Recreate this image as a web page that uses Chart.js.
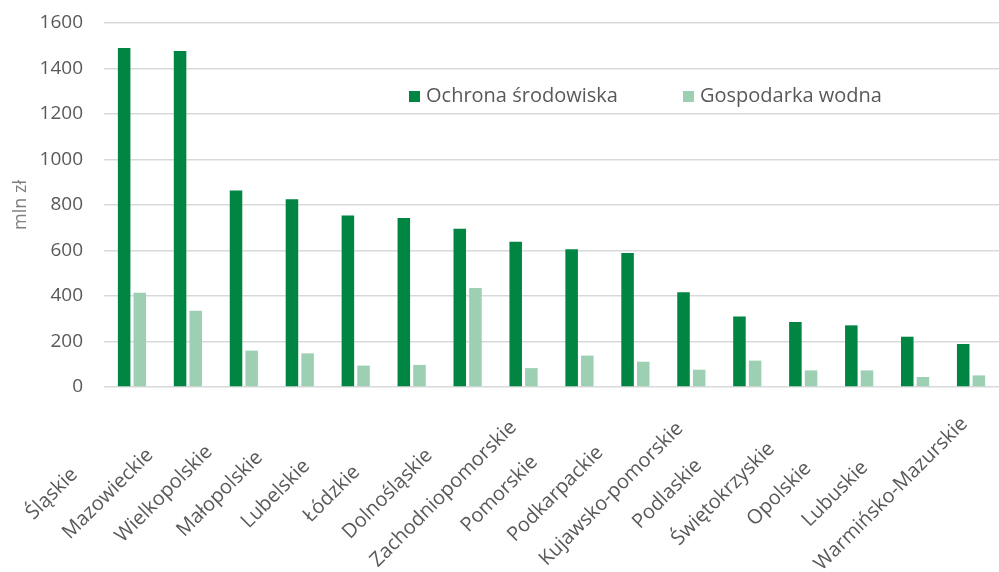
<!DOCTYPE html>
<html>
<head>
<meta charset="utf-8">
<script src="https://cdn.jsdelivr.net/npm/chart.js@4"></script>
<style>
body{margin:0;background:#fff;}
#box{width:999px;height:572px;position:relative;}
</style>
</head>
<body>
<div id="box"><canvas id="regionChart" width="999" height="572"></canvas></div>
<script>
const regions = [
    "Śląskie","Mazowieckie","Wielkopolskie","Małopolskie","Lubelskie","Łódzkie",
    "Dolnośląskie","Zachodniopomorskie","Pomorskie","Podkarpackie","Kujawsko-pomorskie",
    "Podlaskie","Świętokrzyskie","Opolskie","Lubuskie","Warmińsko-Mazurskie"
];
const ochrona = [1490,1477,864,825,754,743,696,639,606,589,417,310,286,271,221,189];
const gospodarka = [414,335,160,148,94,97,435,83,138,111,76,116,73,73,44,51];
const yTicks = [0,200,400,600,800,1000,1200,1400,1600];

const FONT = "'Open Sans', sans-serif";
const TEXT = "#595959";

// labels drawn rotated around their centre, like the original
const xLabels = {
    id:"xLabels",
    afterDraw(chart){
        const c = chart.ctx;
        const x = chart.scales.x;
        c.save();
        c.font = "20px " + FONT;
        c.fillStyle = TEXT;
        c.textAlign = "center";
        c.textBaseline = "middle";
        chart.data.labels.forEach((lab,i)=>{
            c.save();
            c.translate(x.getPixelForValue(i) - 80, 494);
            c.rotate(-Math.PI/4);
            c.fillText(lab,0,0);
            c.restore();
        });
        c.restore();
    }
};

// legend sits inside the plot
const innerLegend = {
    id:"innerLegend",
    afterDraw(chart){
        const c = chart.ctx;
        const spots = [409,683];
        c.save();
        c.font = "20px " + FONT;
        c.textBaseline = "middle";
        chart.data.datasets.forEach((ds,i)=>{
            c.fillStyle = ds.backgroundColor;
            c.fillRect(spots[i],91,11,11);
            c.fillStyle = TEXT;
            c.fillText(ds.label, spots[i] + 17, 96);
        });
        c.restore();
    }
};

const ctx = document.getElementById("regionChart");

new Chart(ctx,{
    type:"bar",
    data:{
        labels:regions,
        datasets:[
            {
                label:"Ochrona środowiska",
                data:ochrona,
                backgroundColor:"#008542"
            },
            {
                label:"Gospodarka wodna",
                data:gospodarka,
                backgroundColor:"#9dcfb3"
            }
        ]
    },
    options:{
        responsive:false,
        animation:false,
        categoryPercentage:.56,
        barPercentage:.8,
        layout:{
            padding:{top:23,bottom:185,left:0,right:0}
        },
        plugins:{
            legend:{display:false},
            tooltip:{enabled:false}
        },
        scales:{
            x:{
                grid:{display:false},
                border:{display:false},
                ticks:{display:false},
                afterFit(s){
                    s.height = 0;
                    s.paddingLeft = 0;
                    s.paddingRight = 0;
                }
            },
            y:{
                min:0,
                max:1600,
                afterBuildTicks(s){
                    s.ticks = yTicks.map(v=>({value:v}));
                },
                afterFit(s){
                    s.width = 104;
                    s.paddingTop = 0;
                    s.paddingBottom = 0;
                },
                grid:{
                    color:"#d9d9d9",
                    lineWidth:1.5,
                    drawTicks:false
                },
                border:{display:false},
                ticks:{
                    padding:21,
                    color:TEXT,
                    font:{family:FONT,size:19},
                    callback:(v)=>String(v)
                },
                title:{
                    display:true,
                    text:"mln zł",
                    color:"#7f7f7f",
                    font:{family:FONT,size:18},
                    padding:{top:10,bottom:0}
                }
            }
        }
    },
    plugins:[xLabels,innerLegend]
});
</script>
</body>
</html>
